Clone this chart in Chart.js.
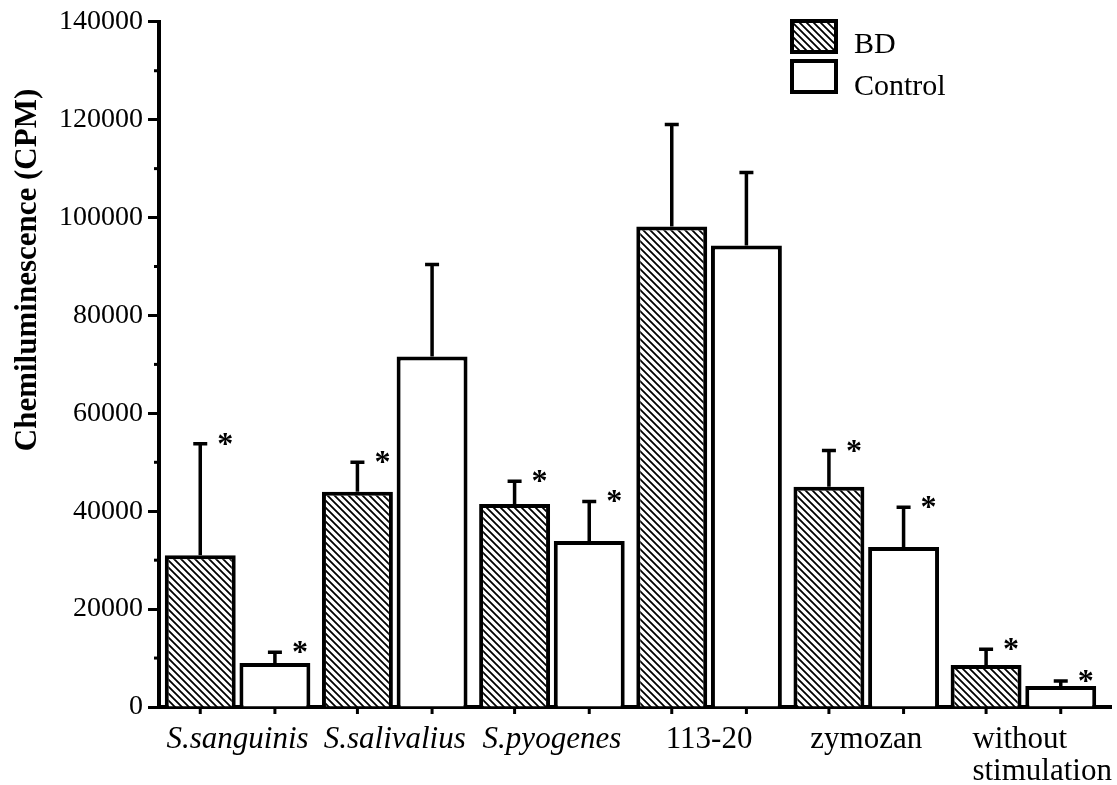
<!DOCTYPE html>
<html>
<head>
<meta charset="utf-8">
<title>Chemiluminescence BD vs Control</title>
<script src="https://cdn.jsdelivr.net/npm/chart.js@4.4.1/dist/chart.umd.min.js"></script>
<style>
  html, body { margin: 0; padding: 0; background: #fff; }
  #wrap { width: 1117px; height: 785px; position: relative; }
</style>
</head>
<body>
<div id="wrap"><canvas id="chart"></canvas></div>
<script>
// Stimulus groups on the x axis (first three are species names, set in italics)
const categories = ['S.sanguinis', 'S.salivalius', 'S.pyogenes', '113-20', 'zymozan', ['without', 'stimulation']];
const italicLabels = [true, true, true, false, false, false];

// Mean chemiluminescence (CPM) with the upper error bar length
const bdValues = [31000, 44000, 41500, 98200, 45000, 8600];
const bdErrors = [22800, 6000, 4600, 20800, 7400, 3200];
const controlValues = [9000, 71600, 33900, 94300, 32700, 4300];
const controlErrors = [2200, 18800, 8100, 14900, 8100, 1000];

// Significance asterisks
const bdStars = [true, true, true, false, true, true];
const controlStars = [true, false, true, false, true, true];

// Y axis: labelled ticks and the small unlabelled ones between them
const yTicks = [0, 20000, 40000, 60000, 80000, 100000, 120000, 140000];
const yMinorTicks = [10000, 30000, 50000, 70000, 90000, 110000, 130000];

const FONT = '"Liberation Serif", "Times New Roman", serif';

// Diagonal "\" hatching used for the BD bars
function makeHatch() {
    const s = 7;
    const c = document.createElement('canvas');
    c.width = s;
    c.height = s;
    const g = c.getContext('2d');
    g.fillStyle = '#fff';
    g.fillRect(0, 0, s, s);
    g.strokeStyle = '#000';
    g.lineWidth = 1.8;
    g.beginPath();
    g.moveTo(-1, -1); g.lineTo(s + 1, s + 1);
    g.moveTo(-1, s - 1); g.lineTo(1, s + 1);
    g.moveTo(s - 1, -1); g.lineTo(s + 1, 1);
    g.stroke();
    return g.createPattern(c, 'repeat');
}
const hatch = makeHatch();

// Error bars, asterisks, axis ticks under bars
const barExtras = {
    id: 'barExtras',
    afterDatasetsDraw(chart) {
        const ctx = chart.ctx;
        const y = chart.scales.y;
        const area = chart.chartArea;
        const sets = [[bdValues, bdErrors, bdStars], [controlValues, controlErrors, controlStars]];
        ctx.save();
        ctx.strokeStyle = '#000';
        ctx.fillStyle = '#000';
        sets.forEach(([vals, errs, stars], di) => {
            chart.getDatasetMeta(di).data.forEach((bar, i) => {
                const top = y.getPixelForValue(vals[i] + errs[i]);
                ctx.lineWidth = 3.5;
                ctx.beginPath();
                ctx.moveTo(bar.x, bar.y);
                ctx.lineTo(bar.x, top);
                ctx.moveTo(bar.x - 7, top);
                ctx.lineTo(bar.x + 7, top);
                ctx.stroke();

                ctx.lineWidth = 3;
                ctx.beginPath();
                ctx.moveTo(bar.x, area.bottom);
                ctx.lineTo(bar.x, area.bottom + 7);
                ctx.stroke();

                if (stars[i]) {
                    ctx.font = 'bold 32px ' + FONT;
                    ctx.textAlign = 'center';
                    ctx.textBaseline = 'alphabetic';
                    ctx.fillText('*', bar.x + 25, top + 10);
                }
            });
        });
        ctx.restore();
    },
    afterDraw(chart) {
        const ctx = chart.ctx;
        const x = chart.scales.x;
        const y = chart.scales.y;
        const area = chart.chartArea;
        ctx.save();
        ctx.strokeStyle = '#000';
        ctx.fillStyle = '#000';

        // minor ticks on the y axis
        ctx.lineWidth = 3;
        yMinorTicks.forEach(v => {
            const py = y.getPixelForValue(v);
            ctx.beginPath();
            ctx.moveTo(area.left - 5, py);
            ctx.lineTo(area.left, py);
            ctx.stroke();
        });

        // x axis runs a little past the last bar
        ctx.lineWidth = 4;
        ctx.beginPath();
        ctx.moveTo(area.right - 2, area.bottom);
        ctx.lineTo(area.right + 10, area.bottom);
        ctx.stroke();

        // category labels
        ctx.textBaseline = 'alphabetic';
        categories.forEach((label, i) => {
            const cx = x.getPixelForValue(i);
            ctx.font = (italicLabels[i] ? 'italic ' : '') + '31px ' + FONT;
            if (Array.isArray(label)) {
                ctx.textAlign = 'left';
                label.forEach((line, k) => ctx.fillText(line, cx - 51, 748 + k * 32));
            } else {
                ctx.textAlign = 'center';
                ctx.fillText(label, cx, 748);
            }
        });

        // y axis title
        ctx.save();
        ctx.translate(28, 270);
        ctx.rotate(-Math.PI / 2);
        ctx.font = 'bold 31px ' + FONT;
        ctx.textAlign = 'center';
        ctx.textBaseline = 'middle';
        ctx.fillText('Chemiluminescence (CPM)', 0, 0);
        ctx.restore();

        // legend
        const items = [['BD', hatch], ['Control', '#fff']];
        items.forEach(([name, fill], k) => {
            const top = 21 + k * 40;
            ctx.fillStyle = fill;
            ctx.fillRect(792, top, 44, 31);
            ctx.lineWidth = 4;
            ctx.strokeRect(792, top, 44, 31);
            ctx.fillStyle = '#000';
            ctx.font = '30px ' + FONT;
            ctx.textAlign = 'left';
            ctx.fillText(name, 854, top + 32 + k * 2);
        });
        ctx.restore();
    }
};

new Chart(document.getElementById('chart'), {
    type: 'bar',
    data: {
        labels: categories,
        datasets: [
            {
                label: 'BD',
                data: bdValues,
                backgroundColor: hatch,
                borderColor: '#000',
                borderWidth: 4,
                categoryPercentage: 0.95,
                barPercentage: 0.95
            },
            {
                label: 'Control',
                data: controlValues,
                backgroundColor: '#fff',
                borderColor: '#000',
                borderWidth: 4,
                categoryPercentage: 0.95,
                barPercentage: 0.95
            }
        ]
    },
    options: {
        responsive: true,
        maintainAspectRatio: false,
        animation: false,
        layout: { padding: { top: 21, right: 15, left: 0, bottom: 0 } },
        plugins: {
            legend: { display: false },
            tooltip: { enabled: false }
        },
        scales: {
            x: {
                z: 1,
                afterFit(scale) { scale.height = 78; },
                ticks: { display: false },
                grid: { display: false },
                border: { display: true, width: 4, color: '#000' }
            },
            y: {
                min: 0,
                max: 140000,
                z: 1,
                afterFit(scale) { scale.width = 159; },
                afterBuildTicks(scale) { scale.ticks = yTicks.map(v => ({ value: v })); },
                ticks: {
                    color: '#000',
                    padding: 5,
                    font: { family: FONT, size: 28 },
                    callback: v => String(v)
                },
                grid: { drawOnChartArea: false, tickLength: 11, tickWidth: 3, tickColor: '#000' },
                border: { display: true, width: 4, color: '#000' }
            }
        }
    },
    plugins: [barExtras]
});
</script>
</body>
</html>
